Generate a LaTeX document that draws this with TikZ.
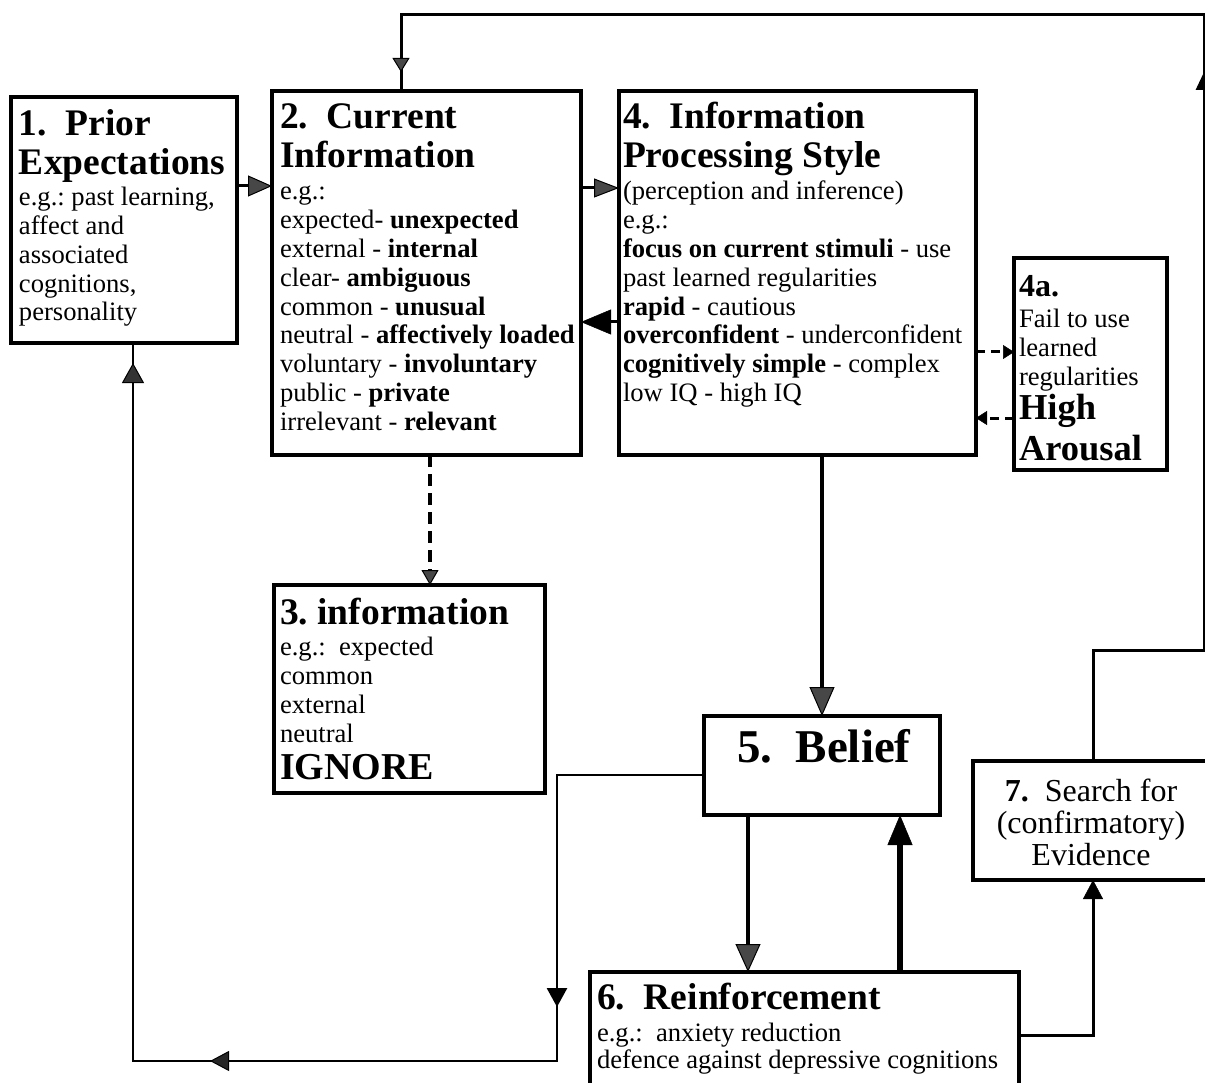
\documentclass[tikz,border=0pt]{standalone}
\usepackage{fontspec}
\setmainfont{Liberation Serif}
\usetikzlibrary{arrows.meta,decorations.markings}
\newcommand\fbody{\fontsize{26.6}{28}\selectfont}
\newcommand\fhead{\fontsize{37.5}{39}\selectfont\bfseries}
\begin{document}
\frenchspacing
\begin{tikzpicture}[x=1pt,y=-1pt,
  box/.style={draw=black, line width=4.5pt, inner sep=0pt, outer sep=0pt, anchor=north west},
  bt/.style={anchor=base west, inner sep=0pt, outer sep=0pt, font=\fbody},
  ht/.style={anchor=base west, inner sep=0pt, outer sep=0pt, font=\fhead},
  conn/.style={draw=black, line width=3pt},
  garrow/.style 2 args={-{Triangle[length=#1,width=#2,fill=black!72,line width=1pt]}},
  barrow/.style 2 args={-{Triangle[length=#1,width=#2,fill=black,line width=0.5pt]}}
]
\useasboundingbox (0,0) rectangle (1205,1083);
\fill[white] (0,0) rectangle (1205,1083);
\clip (0,0) rectangle (1205,1083);

% ---------- boxes ----------
\node[box, minimum width=226pt, minimum height=246pt] (b1) at (11,97) {};
\node[box, minimum width=309pt, minimum height=364pt] (b2) at (272,91) {};
\node[box, minimum width=357pt, minimum height=364pt] (b4) at (619,91) {};
\node[box, minimum width=153pt, minimum height=212pt] (b4a) at (1014,258) {};
\node[box, minimum width=271pt, minimum height=208pt] (b3) at (274,585) {};
\node[box, minimum width=236pt, minimum height=99pt] (b5) at (704,716) {};
\node[box, minimum width=429pt, minimum height=126pt] (b6) at (590,972) {};
\node[box, minimum width=240pt, minimum height=119pt] (b7) at (973,761) {};

% ---------- box 1 ----------
\node[ht] (t1a) at (19,136) {1.\ \ Prior};
\node[ht] (t1b) at (19,175) {Expectations};
\foreach \t [count=\i from 0] in {{e.g.: past learning,},{affect and},{associated},{cognitions,},{personality}}
  \node[bt] (t1c\i) at (19,206+28.7*\i) {\t};

% ---------- box 2 ----------
\node[ht] (t2a) at (280,129) {2.\ \ Current};
\node[ht] (t2b) at (280,168) {Information};
\foreach \t [count=\i from 0] in {{e.g.:},{expected- \textbf{unexpected}},{external - \textbf{internal}},{clear- \textbf{ambiguous}},{common - \textbf{unusual}},{neutral - \textbf{affectively loaded}},{voluntary - \textbf{involuntary}},{public - \textbf{private}},{irrelevant - \textbf{relevant}}}
  \node[bt] (t2c\i) at (280,200+28.8*\i) {\t};

% ---------- box 4 ----------
\node[ht] (t4a) at (623,129) {4.\ \ Information};
\node[ht] (t4b) at (623,168) {Processing Style};
\foreach \t [count=\i from 0] in {{(perception and inference)},{e.g.:},{\textbf{focus on current stimuli} - use},{past learned regularities},{\textbf{rapid} - cautious},{\textbf{overconfident} - underconfident},{\textbf{cognitively simple} - complex},{low IQ - high IQ}}
  \node[bt] (t4c\i) at (623,200+28.8*\i) {\t};

% ---------- box 4a ----------
\node[bt, font=\fontsize{32}{34}\selectfont\bfseries] (t4aa) at (1019,297) {4a.};
\node[bt] (t4ab) at (1019,327) {Fail to use};
\node[bt] (t4ac) at (1019,356) {learned};
\node[bt] (t4ad) at (1019,385) {regularities};
\node[bt, font=\fontsize{36.5}{38}\selectfont\bfseries] (t4ae) at (1019,419) {High};
\node[bt, font=\fontsize{36.5}{38}\selectfont\bfseries] (t4af) at (1019,460) {Arousal};

% ---------- box 3 ----------
\node[ht] (t3a) at (280,624) {3. information};
\foreach \t [count=\i from 0] in {{e.g.:\ \ expected},{common},{external},{neutral}}
  \node[bt] (t3c\i) at (280,655+29*\i) {\t};
\node[ht, font=\fontsize{38}{40}\selectfont\bfseries] (t3d) at (280,779) {IGNORE};

% ---------- box 5 ----------
\node[ht, font=\fontsize{47}{50}\selectfont\bfseries] (t5) at (737,762) {5.\ \ Belief};

% ---------- box 6 ----------
\node[ht] (t6a) at (597,1009) {6.\ \ Reinforcement};
\node[bt] (t6b) at (597,1041) {e.g.:\ \ anxiety reduction};
\node[bt] (t6c) at (597,1068) {defence against depressive cognitions};

% ---------- box 7 ----------
\foreach \t/\yy [count=\i] in {{\textbf{7.}\ \ Search for}/801,{(confirmatory)}/833,{Evidence}/865}
  \node[anchor=base, inner sep=0pt, font=\fontsize{32}{33}\selectfont] (t7\i) at (1091,\yy) {\t};

% ---------- helper coordinates ----------
\coordinate (ya) at (0,186);
\coordinate (yb) at (0,188);
\coordinate (yc) at (0,322);
\coordinate (yd) at (0,352);
\coordinate (ye) at (0,418);
\coordinate (xd) at (430,0);
\coordinate (x56) at (748,0);
\coordinate (x65) at (900,0);
\coordinate (tl) at (401,15);
\coordinate (l5) at (704,775);
\coordinate (e6) at (1019,1035);

% ---------- connectors ----------
\draw[conn, garrow={24pt}{21pt}] (b1.east |- ya) -- (b2.west |- ya);
\draw[conn, garrow={25pt}{19pt}] (b2.east |- yb) -- (b4.west |- yb);
\draw[conn, barrow={30pt}{25pt}] (b4.west |- yc) -- (b2.east |- yc);
\draw[line width=3pt, dash pattern=on 9pt off 6pt, barrow={11pt}{14pt}] (b4.east |- yd) -- (b4a.west |- yd);
\draw[line width=3pt, dash pattern=on 9pt off 6pt, barrow={11pt}{14pt}] (b4a.west |- ye) -- (b4.east |- ye);
\draw[line width=4pt, dash pattern=on 12pt off 7pt, garrow={15pt}{17pt}] (b2.south -| xd) -- (b3.north -| xd);
\draw[line width=4pt, garrow={29pt}{25pt}] (b4.south -| b5.north) -- (b5.north);
\draw[line width=4pt, garrow={28pt}{25pt}] (b5.south -| x56) -- (b6.north -| x56);
\draw[line width=6pt, barrow={30pt}{25pt}] (b6.north -| x65) -- (b5.south -| x65);
\draw[conn, barrow={19pt}{20pt}] (e6) -| (b7.south);

% top feedback loop from box 7 to box 2
\draw[conn, postaction={decorate}, decoration={markings,
    mark=at position 800pt with {\arrow{Triangle[length=18pt,width=16pt]}},
    mark=at position -19pt with {\arrow{Triangle[length=14pt,width=17pt,fill=black!72,line width=1pt]}}}]
  (b7.north) -- (1093,650) -- (1204,650) -- (1204,15) -- (tl) -- (tl |- b2.north);

% feedback loop from box 5 to box 1
\draw[line width=2.8pt, postaction={decorate}, decoration={markings,
    mark=at position 379pt with {\arrow{Triangle[length=19pt,width=20pt]}},
    mark=at position 780pt with {\arrow{Triangle[length=19pt,width=20pt,fill=black!85,line width=1pt]}},
    mark=at position -20pt with {\arrow{Triangle[length=20pt,width=22pt,fill=black!80,line width=1pt]}}}]
  (l5) -- (557,775) -- (557,1061) -- (133,1061) -- (b1.south -| 133,0);
\end{tikzpicture}
\end{document}
